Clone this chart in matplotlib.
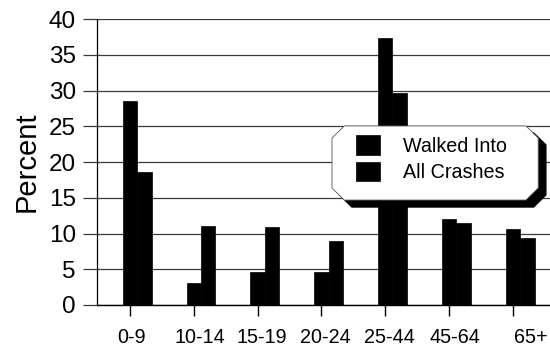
import numpy as np
import matplotlib
matplotlib.use("Agg")
import matplotlib.pyplot as plt
import matplotlib.transforms as mtransforms
from matplotlib.patches import Polygon

plt.rcParams['font.family'] = ['Liberation Sans', 'DejaVu Sans']

# data
age_groups = ["0-9", "10-14", "15-19", "20-24", "25-44", "45-64", "65+"]
walked_into = [28.5, 3.1, 4.6, 4.6, 37.4, 12.0, 10.6]
all_crashes = [18.6, 11.1, 10.9, 9.0, 29.7, 11.4, 9.4]

fig = plt.figure(figsize=(5.5, 3.46), dpi=100)
ax = fig.add_axes([0.176, 0.1185, 0.824, 0.8265])

x = np.arange(len(age_groups))
w = 0.225
b1 = ax.bar(x, walked_into, w, color="black", edgecolor="black", lw=0.5,
            label="Walked Into", zorder=3)
b2 = ax.bar(x + w, all_crashes, w, color="black", edgecolor="black", lw=0.5,
            label="All Crashes", zorder=3)

ax.set_xlim(-0.52, 6.58)
ax.set_ylim(0, 40)
ax.set_yticks(range(0, 41, 5))
ax.yaxis.grid(True, color="#3a3a3a", lw=0.9, zorder=0)
ax.set_axisbelow(True)

for s in ["top", "right"]:
    ax.spines[s].set_visible(False)
ax.spines["left"].set_linewidth(0.9)
ax.spines["bottom"].set_linewidth(1.0)

ax.tick_params(axis="y", length=10, width=0.9, color="#3a3a3a", pad=5,
               labelsize=17.5)
ax.tick_params(axis="x", length=8, width=1.0, direction="out", pad=8.5,
               labelsize=14.2)
ax.set_xticks(x)
ax.set_xticklabels(age_groups)
# labels in the original sit a bit right of their ticks
shifts = [1, 4, 3, 3, 3, 4, 13]
for lab, dx in zip(ax.get_xticklabels(), shifts):
    lab.set_transform(lab.get_transform() +
                      mtransforms.ScaledTranslation(dx / 72, 0, fig.dpi_scale_trans))

ax.set_ylabel("Percent", fontsize=21)
ax.yaxis.set_label_coords(-0.125, 0.5)

# legend box with cut corners and a heavy drop shadow
x0, x1, y0, y1 = 0.519, 0.974, 0.367, 0.626
cx, cy = 0.027, 0.042
pts = [(x0 + cx, y1), (x1 - cx, y1), (x1, y1 - cy), (x1, y0 + cy),
       (x1 - cx, y0), (x0 + cx, y0), (x0, y0 + cy), (x0, y1 - cy)]
shadow_tr = ax.transAxes + mtransforms.ScaledTranslation(5.5 / 72, -5 / 72,
                                                         fig.dpi_scale_trans)
ax.add_patch(Polygon(pts, closed=True, transform=shadow_tr, facecolor="black",
                     edgecolor="black", zorder=4))
ax.add_patch(Polygon(pts, closed=True, transform=ax.transAxes, facecolor="white",
                     edgecolor="#555555", lw=0.6, zorder=5))

leg = ax.legend(handles=[b1, b2], loc="upper left", bbox_to_anchor=(0.572, 0.594),
                frameon=False, fontsize=14.2, borderpad=0, borderaxespad=0,
                handlelength=1.2, handleheight=1.15, handletextpad=1.2,
                labelspacing=0.32)
leg.set_zorder(6)

fig.savefig("out.png", dpi=100)
